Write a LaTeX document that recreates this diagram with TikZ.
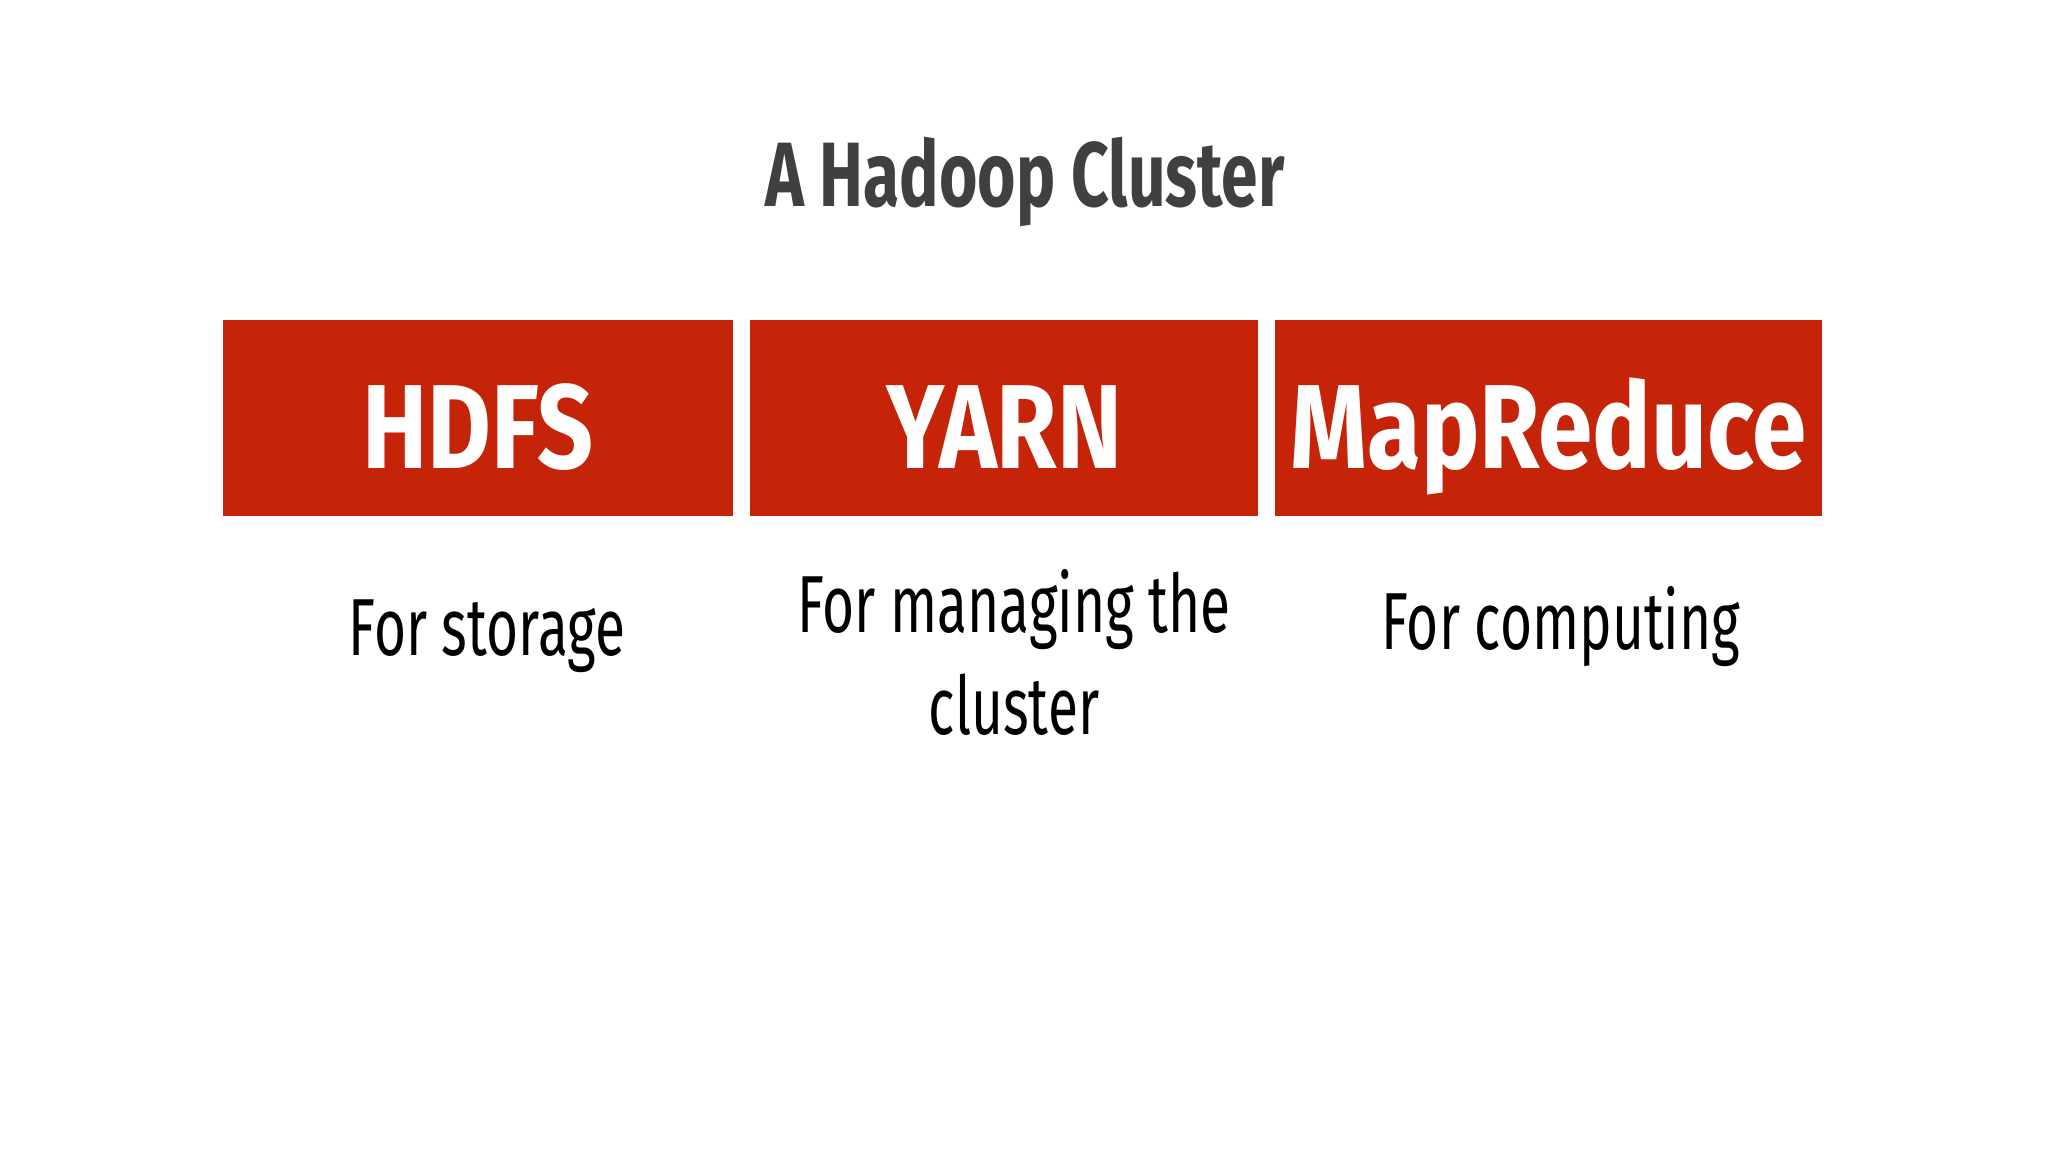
\documentclass[tikz,border=0pt]{standalone}
\usepackage{fontspec}
\setmainfont{Fira Sans}
\newfontfamily\titlefont[FakeStretch=0.72]{Fira Sans}
\newfontfamily\boxfont[FakeStretch=0.82]{Fira Sans}
\newfontfamily\descfont[FakeStretch=0.68]{Fira Sans}
\usetikzlibrary{positioning}
\definecolor{hadoopred}{HTML}{C52408}
\definecolor{titlegray}{HTML}{404040}

\tikzset{
  layer/.style={fill=hadoopred, text=white, inner sep=0pt, outer sep=0pt,
    minimum height=1.96cm, text height=1.2cm, text depth=0.2cm,
    font=\boxfont\bfseries\fontsize{34}{40}\selectfont},
  desc/.style={align=center, text=black,
    font=\descfont\fontsize{23}{29}\selectfont},
}

\begin{document}
\begin{tikzpicture}[x=0.01cm, y=-0.01cm]
  \useasboundingbox[fill=white] (0,0) rectangle (2048,1152);
  % title
  \node[text=titlegray, font=\titlefont\bfseries\fontsize{26}{30}\selectfont]
    (title) at (1025,182) {A Hadoop Cluster};
  % the three layers
  \node[layer, minimum width=5.10cm] (hdfs) at (478,418) {HDFS};
  \node[layer, minimum width=5.08cm, right=0.17cm of hdfs] (yarn) {YARN};
  \node[layer, minimum width=5.46cm, right=0.17cm of yarn] (mapreduce) {MapReduce};
  % what each one is for
  \node[desc] (hdfsdesc) at (487,636) {For storage};
  \node[desc] (yarndesc) at (1014,652) {For managing the\\cluster};
  \node[desc] (mrdesc) at (1561,627) {For computing};
\end{tikzpicture}
\end{document}
